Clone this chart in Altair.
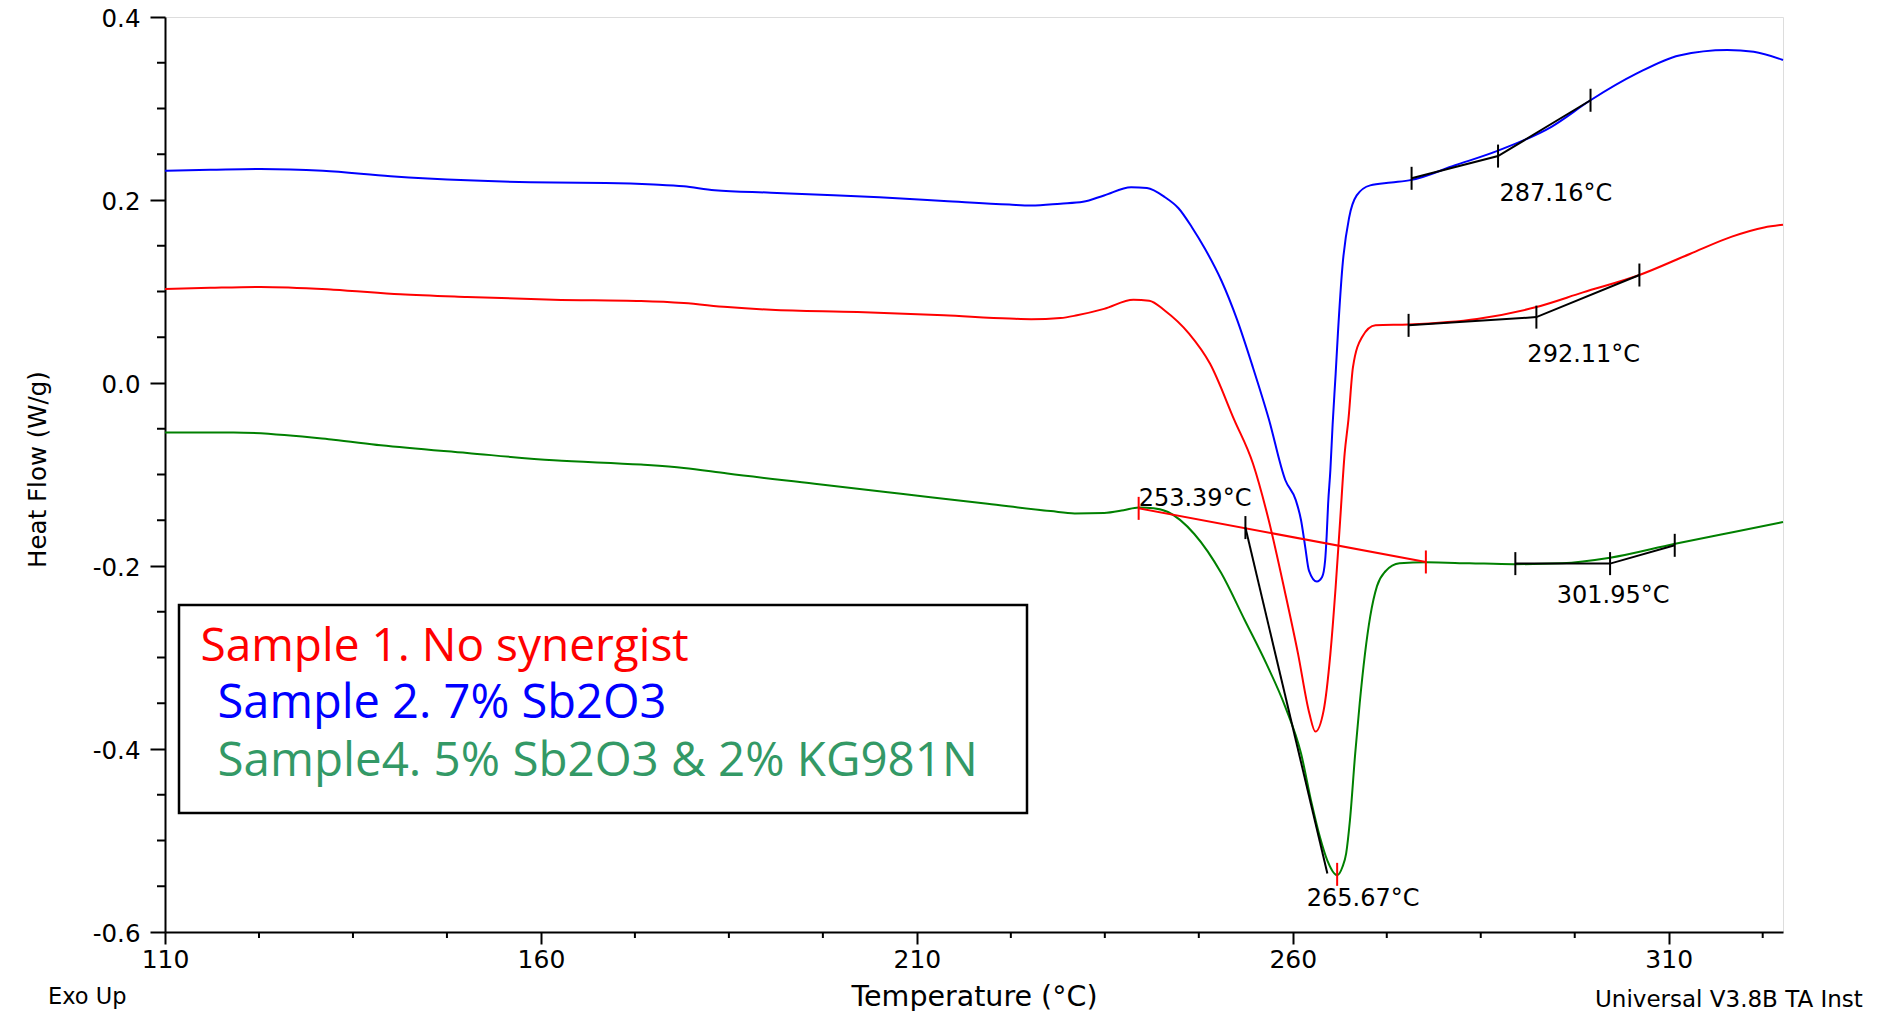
import altair as alt
import pandas as pd

# ---------------- data ----------------
series_names = ["Sample 1. No synergist", "Sample 2. 7% Sb2O3", "Sample4. 5% Sb2O3 & 2% KG981N"]
series_colors = ["#ff0000", "#0000ff", "#008000"]
legend_colors = ["#ff0000", "#0000ff", "#339966"]

red_T = [110, 116, 122.7, 132.4, 141.3, 150.2, 161.7, 173.3, 179.0, 184.8, 190.6, 202.1, 213.6, 222.3, 225.2,
         229.1, 231.3, 234.9, 238.8, 240.9, 243.0, 246.2, 249.0, 252.2, 254.7, 256.8, 259.0, 260.7, 262.2, 263.0,
         264.1, 265.0, 265.7, 266.3, 266.9, 267.4, 268.0, 269.2, 271.0, 275.4, 284.5, 292.4, 298.6, 306.1, 312.8,
         318.4, 322.7, 325.2]
red_V = [0.1027, 0.104, 0.105, 0.102, 0.097, 0.094, 0.091, 0.0896, 0.0874, 0.083, 0.080, 0.0776, 0.074, 0.0704, 0.0697,
         0.071, 0.074, 0.081, 0.091, 0.090, 0.079, 0.054, 0.021, -0.040, -0.088, -0.150, -0.230, -0.296, -0.361, -0.381,
         -0.358, -0.296, -0.223, -0.150, -0.077, -0.040, 0.017, 0.050, 0.063, 0.064, 0.070, 0.083, 0.099, 0.118, 0.141,
         0.160, 0.170, 0.173]

blue_T = [110, 116, 122.7, 131, 140, 150.2, 161.7, 168.6, 175, 179, 183.1, 190.6, 196.4, 205, 213.6,
          222.3, 225.2, 229.1, 232.1, 234.9, 238.5, 240.6, 243.0, 244.8, 246.6, 248.3, 250.5, 252.6, 254.7, 256.8,
          259.0, 260.4, 261.1, 261.65, 262.15, 263.2, 263.9, 264.3, 264.5, 264.7, 265.0, 265.3, 265.7, 266.0, 266.6,
          267.5, 268.5, 270.3, 273.1, 275.8, 281.6, 287.3, 294.4, 299.6, 305.7, 311.4, 317.8, 321.3, 325.2]
blue_V = [0.232, 0.233, 0.234, 0.232, 0.226, 0.2215, 0.219, 0.2186, 0.217, 0.215, 0.2106, 0.208, 0.206, 0.203, 0.199,
          0.195, 0.194, 0.196, 0.198, 0.205, 0.214, 0.213, 0.203, 0.191, 0.170, 0.147, 0.112, 0.069, 0.017, -0.039,
          -0.106, -0.128, -0.150, -0.179, -0.205, -0.217, -0.212, -0.194, -0.168, -0.132, -0.095, -0.045, 0.010, 0.054, 0.127,
          0.181, 0.205, 0.216, 0.219, 0.222, 0.238, 0.254, 0.280, 0.309, 0.338, 0.358, 0.364, 0.362, 0.353]

green_T = [110, 119.1, 132.4, 138.7, 150.2, 161.7, 173.3, 179.0, 184.8, 196.4, 207.9, 219.4, 227.8, 231.0, 234.9,
           237.5, 239.5, 241.5, 243.4, 246.9, 250.5, 253.6, 256.5, 259.0, 261.1, 262.5, 263.6, 264.6, 265.9, 266.6,
           267.1, 267.6, 268.3, 268.9, 269.6, 270.3, 271.2, 272.3, 274.2, 277.8, 283.5, 289.4, 295.8, 302.2, 310.7,
           318.5, 325.2]
green_V = [-0.054, -0.054, -0.062, -0.068, -0.0765, -0.0845, -0.0892, -0.0928, -0.099, -0.110, -0.121, -0.132, -0.140, -0.1425, -0.142,
           -0.139, -0.136, -0.137, -0.141, -0.165, -0.208, -0.259, -0.307, -0.354, -0.405, -0.459, -0.496, -0.522, -0.538, -0.529,
           -0.514, -0.478, -0.405, -0.350, -0.296, -0.255, -0.222, -0.206, -0.197, -0.196, -0.197, -0.198, -0.197, -0.191, -0.176,
           -0.163, -0.152]

# axis ticks
x_major = [110, 160, 210, 260, 310]
x_minor = [122.5, 135, 147.5, 172.5, 185, 197.5, 222.5, 235, 247.5, 272.5, 285, 297.5, 322.5]
y_major = [-0.6, -0.4, -0.2, 0.0, 0.2, 0.4]
y_minor = [-0.55, -0.5, -0.45, -0.35, -0.3, -0.25, -0.15, -0.1, -0.05, 0.05, 0.1, 0.15, 0.25, 0.3, 0.35]

# analysis annotations (tangent / baseline segments)
seg_id = ["a", "a", "a", "b", "b", "b", "c", "c", "d", "d", "e", "e", "e"]
seg_T = [275.8, 287.3, 299.6, 275.4, 292.4, 306.1, 239.5, 277.7, 253.7, 264.6, 289.6, 302.2, 310.8]
seg_V = [0.2237, 0.248, 0.309, 0.063, 0.072, 0.118, -0.137, -0.1956, -0.158, -0.536, -0.1974, -0.1974, -0.1774]
seg_color = ["black", "black", "black", "black", "black", "black", "#ff0000", "#ff0000",
             "black", "black", "black", "black", "black"]

tick_T = [275.8, 287.3, 299.6, 275.4, 292.4, 306.1, 253.7, 289.6, 302.2, 310.8, 239.5, 277.7, 265.9]
tick_V = [0.2237, 0.248, 0.309, 0.063, 0.072, 0.118, -0.158, -0.1974, -0.1974, -0.1774, -0.137, -0.1956, -0.537]
tick_color = ["black"] * 10 + ["#ff0000"] * 3

label_text = ["287.16°C", "292.11°C", "253.39°C", "265.67°C", "301.95°C"]
label_T = [287.5, 291.2, 239.5, 261.85, 295.1]
label_V = [0.199, 0.0226, -0.1348, -0.572, -0.2404]

# ---------------- build tables ----------------
rows = []
for name, Ts, Vs in [(series_names[0], red_T, red_V), (series_names[1], blue_T, blue_V),
                     (series_names[2], green_T, green_V)]:
    for i, (t, v) in enumerate(zip(Ts, Vs)):
        rows.append({"series": name, "T": t, "V": v, "i": i})
curves = pd.DataFrame(rows)
segs = pd.DataFrame({"seg": seg_id, "T": seg_T, "V": seg_V, "c": seg_color})
ticks = pd.DataFrame({"T": tick_T, "V": tick_V, "c": tick_color})
labels = pd.DataFrame({"T": label_T, "V": label_V, "text": label_text})
xminor_df = pd.DataFrame({"T": x_minor})
yminor_df = pd.DataFrame({"V": y_minor})
one = pd.DataFrame({"k": [0]})

W, H = 1618, 915
FONT = "DejaVu Sans"

x_axis = alt.Axis(values=x_major, format="d", tickSize=12, tickWidth=2, tickColor="black",
                  domainColor="black", domainWidth=2, labelFont=FONT, labelFontSize=25,
                  labelColor="black", labelPadding=3, labelFlush=False, labelOverlap=False, grid=False,
                  title="Temperature (°C)", titleFont=FONT, titleFontSize=28.5, titleFontWeight="normal",
                  titleColor="black", titleX=809, titleY=73, titleBaseline="alphabetic", titleAlign="center")
y_axis = alt.Axis(values=y_major, tickSize=15, tickWidth=2, tickColor="black",
                  domainColor="black", domainWidth=2, labelFont=FONT, labelFontSize=24.5,
                  labelColor="black", labelPadding=10, labelFlush=False, labelOverlap=False, grid=False,
                  labelBaseline="alphabetic", labelOffset=9.8,
                  labelExpr="(datum.value < -0.001 ? '-' : '') + format(abs(datum.value), '.1f')",
                  title="Heat Flow (W/g)", titleFont=FONT, titleFontSize=24.5, titleFontWeight="normal",
                  titleColor="black", titleAngle=270, titleX=-120, titleY=452,
                  titleBaseline="alphabetic", titleAlign="center")

xs = alt.Scale(domain=[110, 325.2], nice=False, zero=False)
ys = alt.Scale(domain=[-0.6, 0.4], nice=False, zero=False)
X = alt.X("T:Q", scale=xs, axis=x_axis)
Y = alt.Y("V:Q", scale=ys, axis=y_axis)

lines = alt.Chart(curves).mark_line(strokeWidth=2, interpolate="monotone").encode(
    x=X, y=Y,
    color=alt.Color("series:N", scale=alt.Scale(domain=series_names, range=series_colors), legend=None),
    order="i:Q",
)

seg_layer = alt.Chart(segs).mark_line(strokeWidth=2).encode(
    x=X, y=Y, detail="seg:N", color=alt.Color("c:N", scale=None)
)

tick_layer = alt.Chart(ticks).mark_tick(orient="vertical", size=23, thickness=2, opacity=1).encode(
    x=X, y=Y, color=alt.Color("c:N", scale=None)
)

label_layer = alt.Chart(labels).mark_text(align="left", baseline="alphabetic", font=FONT,
                                          fontSize=24, color="black").encode(
    x=X, y=Y, text="text:N"
)

xminor_layer = alt.Chart(xminor_df).mark_rule(color="black", strokeWidth=2).encode(
    x=X, y=alt.value(H), y2=alt.value(H + 6)
)
yminor_layer = alt.Chart(yminor_df).mark_rule(color="black", strokeWidth=2).encode(
    y=Y, x=alt.value(0), x2=alt.value(-8)
)

box = alt.Chart(one).mark_rect(fillOpacity=0, stroke="black", strokeWidth=2.5).encode(
    x=alt.value(14), x2=alt.value(862), y=alt.value(588), y2=alt.value(796)
)

LEG_FONT = "Open Sans"
leg1 = alt.Chart(one).mark_text(align="left", baseline="alphabetic", font=LEG_FONT, fontSize=46,
                                color=legend_colors[0], text=series_names[0]).encode(
    x=alt.value(35.5), y=alt.value(644))
leg2 = alt.Chart(one).mark_text(align="left", baseline="alphabetic", font=LEG_FONT, fontSize=47,
                                color=legend_colors[1], text=series_names[1]).encode(
    x=alt.value(52.5), y=alt.value(701))
leg3 = alt.Chart(one).mark_text(align="left", baseline="alphabetic", font=LEG_FONT, fontSize=47.5,
                                color=legend_colors[2], text=series_names[2]).encode(
    x=alt.value(52.5), y=alt.value(758.5))

exo = alt.Chart(one).mark_text(align="left", baseline="alphabetic", font=FONT, fontSize=22.5,
                               color="black", text="Exo Up").encode(
    x=alt.value(-117), y=alt.value(987.3))
univ = alt.Chart(one).mark_text(align="left", baseline="alphabetic", font=FONT, fontSize=23,
                                color="black", text="Universal V3.8B TA Instruments",
                                limit=273, ellipsis="\u200b").encode(
    x=alt.value(1430), y=alt.value(989.7))

chart = alt.layer(
    box, lines, seg_layer, tick_layer, label_layer, xminor_layer, yminor_layer,
    leg1, leg2, leg3, exo, univ
).properties(
    width=W, height=H,
    autosize=alt.AutoSizeParams(type="none"),
    padding={"left": 157, "top": 9, "right": 92, "bottom": 79},
).configure_view(
    stroke="black", strokeWidth=2
).configure(background="white")

chart.save("out.html", embed_options={"renderer": "svg", "actions": False})
